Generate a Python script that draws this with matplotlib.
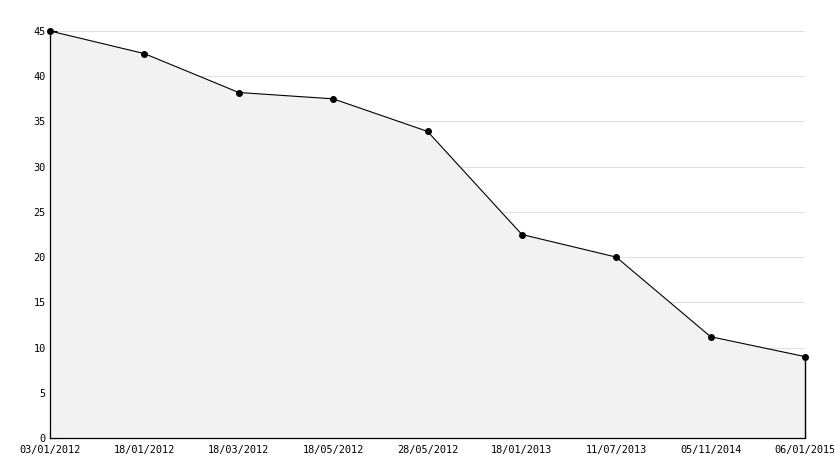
import numpy as np
import matplotlib
matplotlib.use('Agg')
import matplotlib.pyplot as plt
from matplotlib.ticker import MultipleLocator

# data
dates = ['03/01/2012', '18/01/2012', '18/03/2012', '18/05/2012', '28/05/2012',
         '18/01/2013', '11/07/2013', '05/11/2014', '06/01/2015']
values = [45, 42.5, 38.2, 37.5, 33.9, 22.5, 20.0, 11.2, 9.0]

x = np.arange(len(dates))

fig = plt.figure(figsize=(8.34, 4.68), dpi=100)
ax = fig.add_axes([50/834, 30/468, 755/834, 407/468])

ax.fill_between(x, values, 0, color='#f2f2f2', lw=0)
ax.plot(x, values, color='black', lw=0.8, marker='o', markersize=4, clip_on=False, zorder=3)
ax.vlines(x[-1], 0, values[-1], color='black', lw=1.0, clip_on=False, zorder=3)

ax.set_xlim(0, len(dates) - 1)
ax.set_ylim(0, 45)
ax.set_xticks(x)
ax.set_xticklabels(dates)
ax.yaxis.set_major_locator(MultipleLocator(5))
ax.yaxis.set_minor_locator(MultipleLocator(1))

ax.grid(axis='y', color='#e0e0e0', lw=0.8)
ax.set_axisbelow(True)
for s in ['top', 'right']:
    ax.spines[s].set_visible(False)
for s in ['left', 'bottom']:
    ax.spines[s].set_linewidth(0.9)

ax.tick_params(axis='both', direction='in', length=5, width=0.8,
               labelsize=7.4, pad=3)
ax.tick_params(axis='x', pad=5)
ax.tick_params(axis='y', which='minor', direction='in', length=3, width=0.8)
for lab in ax.get_xticklabels() + ax.get_yticklabels():
    lab.set_family('DejaVu Sans Mono')

fig.savefig('out.png', dpi=100)
